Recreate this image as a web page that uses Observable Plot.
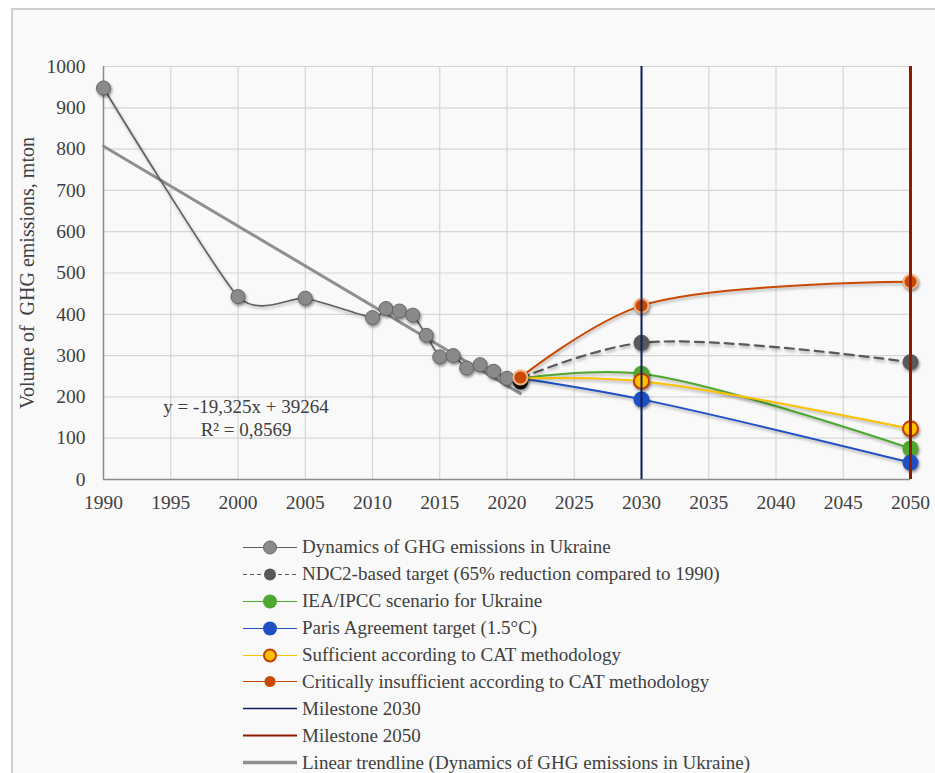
<!DOCTYPE html>
<html><head><meta charset="utf-8">
<script src="https://cdn.jsdelivr.net/npm/d3@7"></script>
<script src="https://cdn.jsdelivr.net/npm/@observablehq/plot@0.6"></script>
<style>
body{margin:0;background:#fff;width:935px;height:773px;overflow:hidden;position:relative;font-family:"Liberation Serif",serif}
#frame{position:absolute;left:11px;top:8px;width:940px;height:790px;background:#f9f9f9;border-left:2px solid #d0d0d0;border-top:2px solid #d0d0d0}
#chart{position:absolute;left:0;top:0}
#chart svg, #chart svg text{font-family:"Liberation Serif",serif !important}
#chart g[aria-label="dot"]{filter:drop-shadow(1.5px 2px 1.5px rgba(0,0,0,0.45))}
#chart g.shadowline{filter:drop-shadow(1px 2px 1.5px rgba(0,0,0,0.3))}
#legend{position:absolute;left:243px;top:534px;color:#404040;font-size:19px}
.row{height:26.9px;display:flex;align-items:center;white-space:nowrap}
.row svg{margin-right:3px;flex:none}
</style></head>
<body>
<div id="frame"></div>
<div id="chart"></div>
<div id="legend"></div>
<script>
const histYears = [1990,2000,2005,2010,2011,2012,2013,2014,2015,2016,2017,2018,2019,2020,2021];
const histValues = [948,443,439,392,414,408,398,349,297,300,270,278,262,245,236];
const scenarioYears = [2021,2030,2050];
const ndcValues = [245,331,284];
const ieaValues = [245,256,75];
const parisValues = [245,194,41];
const sufficientValues = [245,238,123];
const criticalValues = [247,421,479];
const milestone2030 = [2030];
const milestone2050 = [2050];
const trendYears = [1990,2021];
const trendValues = [807,208];
const xTicks = [1990,1995,2000,2005,2010,2015,2020,2025,2030,2035,2040,2045,2050];
const yTicks = [0,100,200,300,400,500,600,700,800,900,1000];
const equationText = "y = -19,325x + 39264\nR² = 0,8569";
const yLabel = "Volume of  GHG emissions, mton";

const C = {
  hist: "#5e5e5e", histFill: "#8a8a8a", histStroke: "#666",
  ndc: "#595959", iea: "#4ea72e", paris: "#1f4fc4",
  suff: "#ffc000", suffStroke: "#c04000",
  crit: "#c84a00", critStroke: "#f4b183",
  m2030: "#0e1f5e", m2050: "#8b1c00", trend: "#8f8f8f"
};

const hist = histYears.map((year, i) => ({year, value: histValues[i]}));
const trend = trendYears.map((year, i) => ({year, value: trendValues[i]}));
const sc = vals => scenarioYears.map((year, i) => ({year, value: vals[i]}));
const ndc = sc(ndcValues), iea = sc(ieaValues), paris = sc(parisValues),
      suff = sc(sufficientValues), crit = sc(criticalValues);

const H = 520;
const chart = Plot.plot({
  width: 935, height: H,
  marginLeft: 103, marginRight: 25, marginTop: 66, marginBottom: H - 479,
  style: {fontFamily: '"Liberation Serif", serif', fontSize: "19.5px", color: "#404040", background: "transparent"},
  x: {domain: [1990, 2050]},
  y: {domain: [0, 1000]},
  marks: [
    Plot.ruleX(xTicks.slice(1), {stroke: "#d6d6d6", strokeWidth: 1.2}),
    Plot.ruleY(yTicks.slice(1), {stroke: "#d6d6d6", strokeWidth: 1.2}),
    Plot.ruleX([xTicks[0]], {stroke: "#8a8a8a", strokeWidth: 1.5}),
    Plot.ruleY([yTicks[0]], {stroke: "#8a8a8a", strokeWidth: 1.5}),
    Plot.axisX({ticks: xTicks, tickSize: 0, tickPadding: 16, tickFormat: d => String(d), label: null}),
    Plot.axisY({ticks: yTicks, tickSize: 0, tickPadding: 18, tickFormat: d => String(d), label: null}),
    Plot.line(trend, {x: "year", y: "value", stroke: C.trend, strokeWidth: 3}),
    Plot.line(hist, {x: "year", y: "value", stroke: C.hist, strokeWidth: 1.6, curve: "cardinal", tension: 0.4, className: "shadowline"}),
    Plot.line(ndc, {x: "year", y: "value", stroke: C.ndc, strokeWidth: 2.2, strokeDasharray: "9,6", curve: "catmull-rom", className: "shadowline"}),
    Plot.line(iea, {x: "year", y: "value", stroke: C.iea, strokeWidth: 2, curve: "catmull-rom", className: "shadowline"}),
    Plot.line(paris, {x: "year", y: "value", stroke: C.paris, strokeWidth: 2, curve: "catmull-rom", className: "shadowline"}),
    Plot.line(suff, {x: "year", y: "value", stroke: C.suff, strokeWidth: 2, curve: "catmull-rom", className: "shadowline"}),
    Plot.line(crit, {x: "year", y: "value", stroke: C.crit, strokeWidth: 2, curve: "catmull-rom", className: "shadowline"}),
    Plot.dot(hist.filter(d => d.year < 2021), {x: "year", y: "value", r: 7, fill: C.histFill, stroke: C.histStroke, strokeWidth: 1}),
    Plot.dot(hist.filter(d => d.year === 2021), {x: "year", y: "value", r: 7.5, fill: "#111"}),
    Plot.dot(ndc.slice(1), {x: "year", y: "value", r: 8, fill: C.ndc}),
    Plot.dot(iea.slice(1), {x: "year", y: "value", r: 8, fill: C.iea}),
    Plot.dot(paris.slice(1), {x: "year", y: "value", r: 8, fill: C.paris}),
    Plot.dot(suff.slice(1), {x: "year", y: "value", r: 7.5, fill: C.suff, stroke: C.suffStroke, strokeWidth: 2}),
    Plot.dot(crit, {x: "year", y: "value", r: 7, fill: C.crit, stroke: C.critStroke, strokeWidth: 2}),
    Plot.ruleX(milestone2030, {stroke: C.m2030, strokeWidth: 2}),
    Plot.ruleX(milestone2050, {stroke: C.m2050, strokeWidth: 3}),
    Plot.text([equationText], {x: 2000.6, y: 151, text: d => d, fontSize: 19, lineHeight: 1.2, textAnchor: "middle", fill: "#404040"}),
    Plot.text([yLabel], {frameAnchor: "left", dx: -76, rotate: -90, textAnchor: "middle", text: d => d, fontSize: 20, fill: "#404040"})
  ]
});
document.getElementById("chart").appendChild(chart);

const legendItems = [
  {label: "Dynamics of GHG emissions in Ukraine", line: C.hist, w: 1.2, dot: {r: 6.5, fill: C.histFill, stroke: C.histStroke, sw: 1}},
  {label: "NDC2-based target (65% reduction compared to 1990)", line: C.ndc, w: 1.2, dash: "4,3", dot: {r: 6, fill: C.ndc}},
  {label: "IEA/IPCC scenario for Ukraine", line: C.iea, w: 1.2, dot: {r: 7, fill: C.iea}},
  {label: "Paris Agreement target (1.5°C)", line: C.paris, w: 1.2, dot: {r: 7, fill: C.paris}},
  {label: "Sufficient according to CAT methodology", line: C.suff, w: 1.2, dot: {r: 6, fill: C.suff, stroke: C.suffStroke, sw: 2}},
  {label: "Critically insufficient according to CAT methodology", line: C.crit, w: 1.2, dot: {r: 5.5, fill: C.crit}},
  {label: "Milestone 2030", line: C.m2030, w: 1.3},
  {label: "Milestone 2050", line: C.m2050, w: 2.2},
  {label: "Linear trendline (Dynamics of GHG emissions in Ukraine)", line: C.trend, w: 3.5}
];
const leg = document.getElementById("legend");
for (const it of legendItems) {
  const row = document.createElement("div");
  row.className = "row";
  let s = `<svg width="56" height="27"><line x1="0" x2="54" y1="13.5" y2="13.5" stroke="${it.line}" stroke-width="${it.w}" ${it.dash ? `stroke-dasharray="${it.dash}"` : ""}/>`;
  if (it.dot) s += `<circle cx="27" cy="13.5" r="${it.dot.r}" fill="${it.dot.fill}" ${it.dot.stroke ? `stroke="${it.dot.stroke}" stroke-width="${it.dot.sw}"` : ""}/>`;
  s += `</svg>`;
  row.innerHTML = s + `<span>${it.label}</span>`;
  leg.appendChild(row);
}
</script>
</body></html>
